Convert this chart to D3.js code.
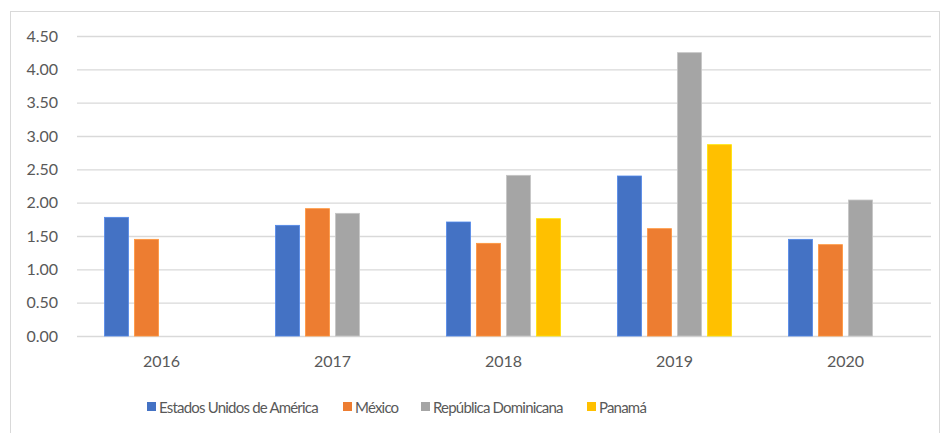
<!DOCTYPE html>
<html><head><meta charset="utf-8">
<script src="https://cdn.jsdelivr.net/npm/d3@7"></script>
<style>body{margin:0;background:#fff}svg{display:block}text{font-family:Lato,"Open Sans",sans-serif;fill:#595959}</style>
</head><body><svg id="c" width="943" height="433"></svg>
<script>
const years = ["2016","2017","2018","2019","2020"];
const seriesNames = ["Estados Unidos de América","México","República Dominicana","Panamá"];
const usa = [1.78,1.66,1.71,2.40,1.45];
const mexico = [1.45,1.91,1.39,1.61,1.37];
const repDom = [null,1.84,2.41,4.25,2.04];
const panama = [null,null,1.76,2.87,null];
const yTicks = [0,0.5,1,1.5,2,2.5,3,3.5,4,4.5];
const colors = ["#4472C4","#ED7D31","#A5A5A5","#FFC000"];
const seriesVals = [usa, mexico, repDom, panama];

const svg = d3.select("#c");
svg.append("rect").attr("x",10.5).attr("y",11.5).attr("width",929).attr("height",440)
  .attr("fill","none").attr("stroke","#d9d9d9").attr("stroke-width",1);

const x0 = d3.scaleBand().domain(years).range([76,931]);
const x1 = d3.scaleBand().domain(seriesNames).range([0,x0.bandwidth()]).paddingInner(0.2).paddingOuter(0.95);
const y = d3.scaleLinear().domain([0,4.5]).range([336,36]);

const yAxis = d3.axisLeft(y).tickValues(yTicks).tickFormat(d3.format(".2f")).tickSize(-(931-77)).tickPadding(19);
const gy = svg.append("g").attr("transform","translate(77,0)").call(yAxis);
gy.select(".domain").remove();
gy.selectAll(".tick line").attr("stroke","#d9d9d9").attr("stroke-width",1.3);
gy.selectAll(".tick text").attr("font-size",16).style("fill","#595959");

const xAxis = d3.axisBottom(x0).tickSize(0).tickPadding(20);
const gx = svg.append("g").attr("transform","translate(0,336)").call(xAxis);
gx.select(".domain").remove();
gx.selectAll(".tick text").attr("font-size",16).style("fill","#595959");

seriesNames.forEach((s,si)=>{
  svg.append("g").selectAll("rect").data(years.map((yr,i)=>({yr,v:seriesVals[si][i]})).filter(d=>d.v!=null))
    .join("rect")
    .attr("x",d=>x0(d.yr)+x1(s))
    .attr("width",x1.bandwidth())
    .attr("y",d=>y(d.v))
    .attr("height",d=>y(0)-y(d.v))
    .attr("fill",colors[si])
    .attr("stroke",d3.color(colors[si]).brighter(0.5))
    .attr("stroke-width",0.8);
});

const legX = [147,343,421,587];
const leg = svg.append("g");
seriesNames.forEach((s,i)=>{
  leg.append("rect").attr("x",legX[i]).attr("y",402).attr("width",9).attr("height",9).attr("fill",colors[i]);
  leg.append("text").attr("x",legX[i]+12).attr("y",413).attr("font-size",15).attr("letter-spacing",-0.8).text(s);
});
</script></body></html>
